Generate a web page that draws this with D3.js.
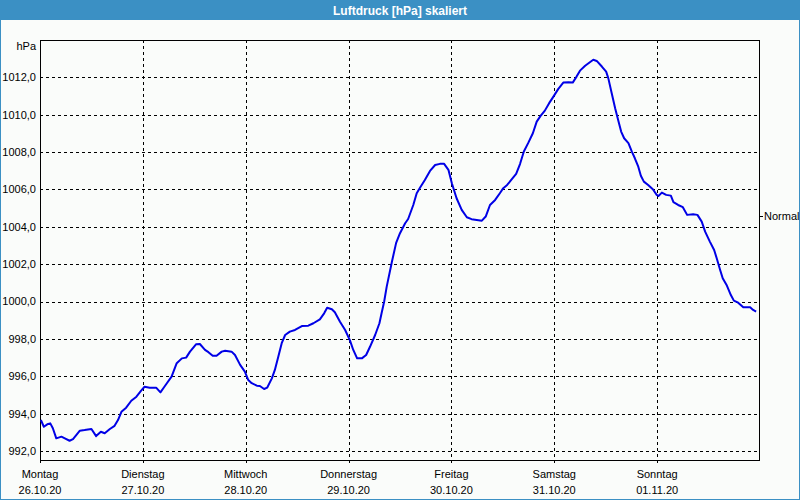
<!DOCTYPE html>
<html><head><meta charset="utf-8">
<script src="https://cdn.jsdelivr.net/npm/d3@7"></script>
<style>
html,body{margin:0;padding:0;background:#fff;}
svg{display:block;}
text{font-family:"Liberation Sans",Arial,sans-serif;}
</style></head>
<body>
<svg id="c" width="800" height="500"></svg>
<script>
const title = "Luftdruck [hPa] skaliert";
const unitLabel = "hPa";
const dayNames = ["Montag","Dienstag","Mittwoch","Donnerstag","Freitag","Samstag","Sonntag"];
const dateLabels = ["26.10.20","27.10.20","28.10.20","29.10.20","30.10.20","31.10.20","01.11.20"];
const yTicks = [992,994,996,998,1000,1002,1004,1006,1008,1010,1012];
const normalValue = 1004.58;
const normalLabel = "Normal";
// hours since 26.10.20 00:00
const hours = [0.2,0.9,1.7,2.4,3.0,3.8,5.0,5.8,6.9,7.7,9.3,10.4,12.0,13.1,14.2,15.1,16.3,17.4,18.2,19.0,
20.1,21.3,22.5,23.6,24.4,25.6,27.1,28.1,28.9,29.6,30.7,31.9,33.1,34.1,35.0,36.4,37.3,38.5,39.3,40.3,
41.2,42.4,43.2,44.7,45.5,46.7,47.8,48.6,49.4,50.6,51.3,52.3,53.0,54.1,54.8,55.6,56.4,57.2,58.3,59.5,
61.1,62.6,63.8,65.3,66.3,67.0,68.1,68.8,70.0,71.2,72.3,73.1,74.0,75.1,76.1,77.0,78.2,79.2,79.7,80.3,
80.9,82.1,83.1,84.0,85.2,85.9,87.1,87.9,88.7,89.8,91.0,92.2,93.3,94.3,95.3,96.1,97.2,98.4,99.6,100.7,
101.9,103.1,104.0,105.0,106.2,107.3,108.1,109.0,110.1,111.1,112.0,112.9,113.9,115.0,115.9,116.8,117.8,118.8,119.8,120.9,
122.1,123.3,124.3,125.2,126.0,127.2,128.3,129.1,129.9,131.1,132.1,132.6,133.4,134.2,134.9,135.6,136.3,137.3,138.1,138.8,
139.6,140.2,140.9,141.9,143.0,143.9,144.3,145.1,146.1,147.2,147.8,148.9,150.0,151.0,152.4,153.4,154.4,155.2,156.3,157.3,
157.9,158.7,159.3,160.2,161.2,161.9,162.9,164.1,165.7,166.4,167.1];
const pressure = [993.66,993.30,993.43,993.48,993.22,992.68,992.77,992.68,992.55,992.64,993.09,993.12,993.18,992.80,993.03,992.95,993.18,993.35,993.66,994.10,
994.32,994.69,994.91,995.23,995.44,995.39,995.39,995.14,995.40,995.63,995.98,996.70,996.96,997.00,997.32,997.71,997.73,997.41,997.29,997.10,
997.10,997.32,997.37,997.32,997.14,996.61,996.25,995.80,995.63,995.50,995.48,995.32,995.39,995.89,996.34,997.05,997.77,998.21,998.39,998.48,
998.69,998.71,998.84,999.05,999.37,999.67,999.59,999.43,998.92,998.48,997.94,997.41,996.96,996.96,997.14,997.58,998.21,998.84,999.37,999.99,
1000.80,1002.12,1003.14,1003.66,1004.19,1004.42,1005.17,1005.80,1006.10,1006.51,1006.99,1007.31,1007.37,1007.37,1007.05,1006.33,1005.53,1004.91,1004.51,1004.41,
1004.37,1004.33,1004.55,1005.17,1005.44,1005.80,1006.07,1006.24,1006.55,1006.83,1007.36,1008.03,1008.48,1009.01,1009.63,1009.94,1010.22,1010.62,1010.97,1011.37,
1011.72,1011.74,1011.72,1012.04,1012.36,1012.62,1012.81,1012.94,1012.88,1012.58,1012.31,1011.96,1011.15,1010.35,1009.72,1009.10,1008.74,1008.48,1008.03,1007.67,
1007.22,1006.73,1006.42,1006.24,1006.01,1005.71,1005.65,1005.83,1005.71,1005.67,1005.32,1005.17,1005.05,1004.64,1004.67,1004.64,1004.28,1003.74,1003.21,1002.76,
1002.32,1001.69,1001.25,1000.89,1000.35,1000.05,999.94,999.69,999.69,999.55,999.46];

const W = 800, H = 500;
const plot = {l:40, t:40, r:760, b:460};
const svg = d3.select("#c");
const start = new Date(2020,9,26,0,0,0);
const end = new Date(2020,10,2,0,0,0);
const x = d3.scaleTime().domain([start,end]).range([plot.l, plot.r]);
const y = d3.scaleLinear().domain([991.52, 1014.0]).range([plot.b, plot.t]);
const data = hours.map((h,i)=>({t:new Date(start.getTime()+h*3600e3), v:pressure[i]}));
const dayDates = dateLabels.map((d,i)=>new Date(2020,9,26+i));

// frame
svg.append("rect").attr("x",0).attr("y",0).attr("width",W).attr("height",H).attr("fill","#3b90c4");
svg.append("rect").attr("x",1).attr("y",20).attr("width",W-2).attr("height",H-21).attr("fill","#fafcfa");
svg.append("text").attr("x",W/2).attr("y",14.5).attr("text-anchor","middle")
  .attr("fill","#fff").attr("font-weight","bold").attr("font-size","12px").text(title);

const crisp = v => Math.round(v)+0.5;

// horizontal grid
svg.append("g").selectAll("line").data(yTicks).join("line")
  .attr("x1",plot.l).attr("x2",plot.r)
  .attr("y1",d=>crisp(y(d))).attr("y2",d=>crisp(y(d)))
  .attr("stroke","#000").attr("stroke-dasharray","3,3");
// vertical grid
svg.append("g").selectAll("line").data(dayDates.slice(1)).join("line")
  .attr("x1",d=>crisp(x(d))).attr("x2",d=>crisp(x(d)))
  .attr("y1",plot.t).attr("y2",plot.b+3)
  .attr("stroke","#000").attr("stroke-dasharray","3,3");

// plot box
svg.append("rect").attr("x",plot.l+0.5).attr("y",plot.t+0.5)
  .attr("width",plot.r-plot.l-1).attr("height",plot.b-plot.t)
  .attr("fill","none").attr("stroke","#000");
svg.append("line").attr("x1",plot.l+0.5).attr("x2",plot.l+0.5).attr("y1",plot.b).attr("y2",plot.b+3).attr("stroke","#000");

// y labels
svg.append("g").selectAll("text").data(yTicks).join("text")
  .attr("x",36).attr("y",d=>y(d)).attr("dy","0.35em").attr("text-anchor","end")
  .attr("font-size","11px").attr("fill","#000").text(d=>d3.format(".1f")(d).replace(".",","));
svg.append("text").attr("x",36).attr("y",46).attr("dy","0.35em").attr("text-anchor","end")
  .attr("font-size","11px").attr("fill","#000").text(unitLabel);

// x labels
const xl = svg.append("g").selectAll("g").data(dayDates).join("g");
xl.append("text").attr("x",d=>x(d)).attr("y",478).attr("text-anchor","middle")
  .attr("font-size","11px").attr("fill","#000").text((d,i)=>dayNames[i]);
xl.append("text").attr("x",d=>x(d)).attr("y",494).attr("text-anchor","middle")
  .attr("font-size","11px").attr("fill","#000").text((d,i)=>dateLabels[i]);

// normal marker
svg.append("line").attr("x1",plot.r).attr("x2",plot.r+3)
  .attr("y1",crisp(y(normalValue))).attr("y2",crisp(y(normalValue))).attr("stroke","#000");
svg.append("text").attr("x",plot.r+4).attr("y",y(normalValue)).attr("dy","0.35em")
  .attr("font-size","11px").attr("fill","#000").text(normalLabel);

// line
svg.append("path").datum(data)
  .attr("fill","none").attr("stroke","#0000e6").attr("stroke-width",2).attr("stroke-linejoin","round")
  .attr("d", d3.line().x(d=>x(d.t)).y(d=>y(d.v)));
</script>
</body></html>
